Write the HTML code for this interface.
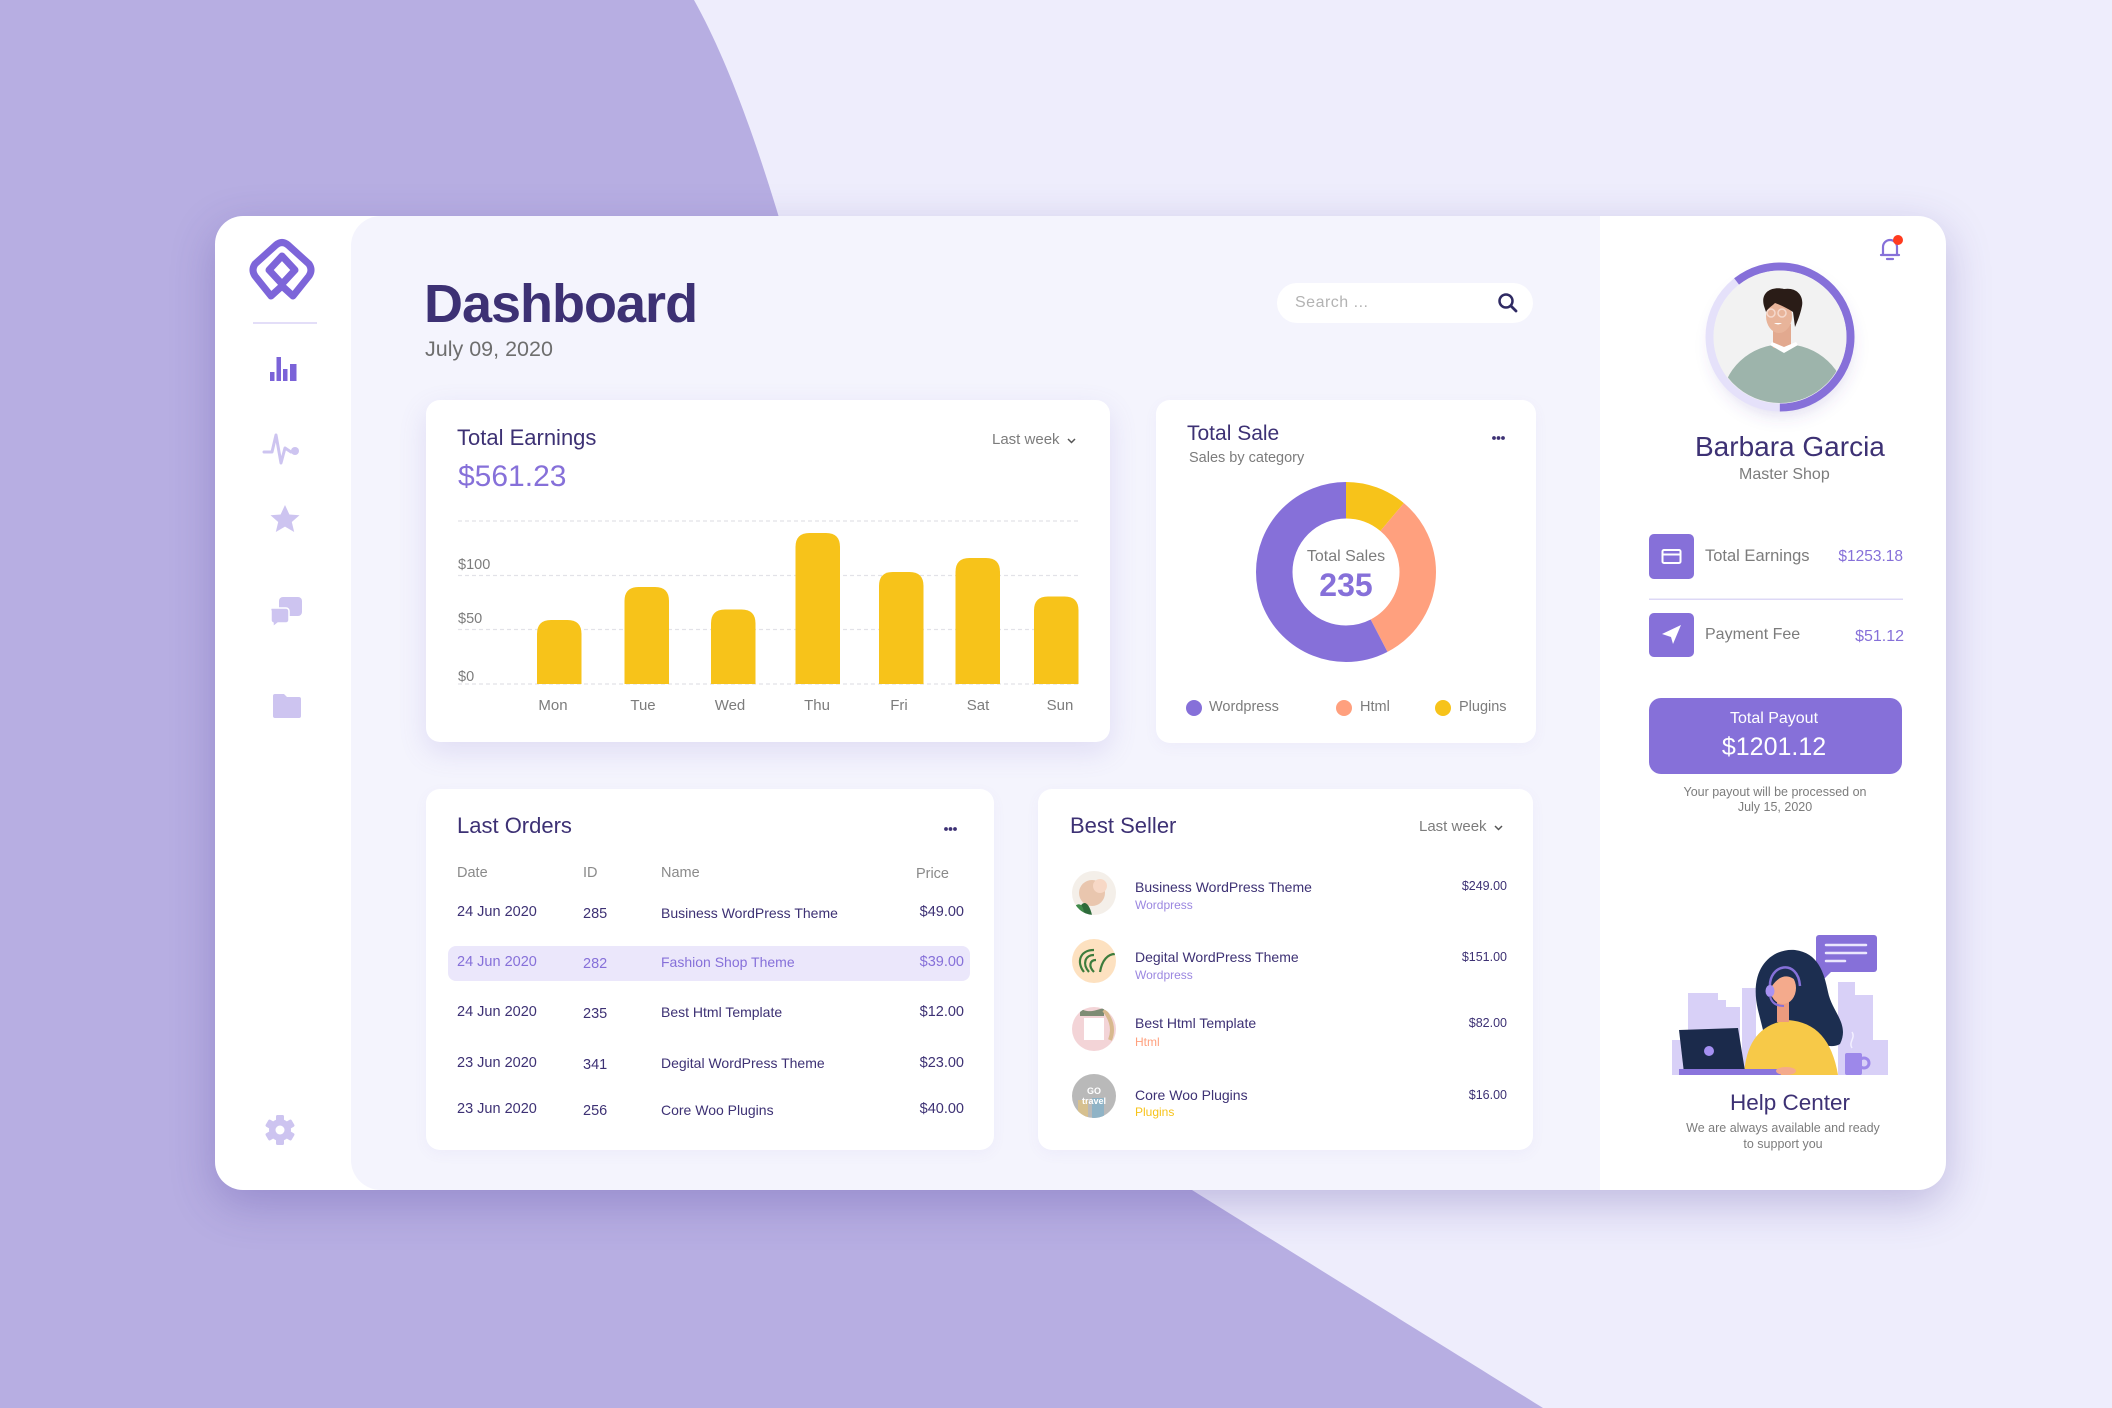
<!DOCTYPE html>
<html><head><meta charset="utf-8">
<style>
html,body{margin:0;padding:0;}
body{width:2112px;height:1408px;overflow:hidden;position:relative;font-family:"Liberation Sans",sans-serif;}
.t{position:absolute;white-space:nowrap;line-height:1.2;font-family:"Liberation Sans",sans-serif;}
.nv{color:#3d3174;}
.gy{color:#7c7c7c;}
.pu{color:#8670d9;}
.box{position:absolute;}
</style></head>
<body>
<!-- background -->
<svg width="2112" height="1408" style="position:absolute;left:0;top:0">
  <rect width="2112" height="1408" fill="#b7aee2"/>
  <path d="M694 0 C850 280 900 1000 1192 1190 C1288 1250 1463 1358 1543 1408 L2112 1408 L2112 0 Z" fill="#eeedfc"/>
</svg>

<!-- main card -->
<div class="box" style="left:215px;top:216px;width:1731px;height:974px;background:#fff;border-radius:28px;box-shadow:0 14px 44px rgba(70,50,150,0.28);"></div>
<div class="box" style="left:351px;top:216px;width:1249px;height:974px;background:#f4f4fd;border-radius:30px 0 0 30px;"></div>

<!-- inner cards -->
<div class="box" style="left:426px;top:400px;width:684px;height:342px;background:#fff;border-radius:14px;box-shadow:0 10px 28px rgba(120,100,200,0.16);"></div>
<div class="box" style="left:1156px;top:400px;width:380px;height:343px;background:#fff;border-radius:14px;box-shadow:0 4px 14px rgba(120,100,200,0.05);"></div>
<div class="box" style="left:426px;top:789px;width:568px;height:361px;background:#fff;border-radius:14px;box-shadow:0 4px 14px rgba(120,100,200,0.05);"></div>
<div class="box" style="left:1038px;top:789px;width:495px;height:361px;background:#fff;border-radius:14px;box-shadow:0 4px 14px rgba(120,100,200,0.05);"></div>
<!-- search -->
<div class="box" style="left:1277px;top:283px;width:256px;height:40px;background:#fff;border-radius:20px;"></div>
<!-- payout button -->
<div class="box" style="left:1649px;top:698px;width:253px;height:76px;background:#8670d9;border-radius:12px;"></div>
<!-- highlighted row -->
<div class="box" style="left:448px;top:946px;width:522px;height:35px;background:#ebe7fb;border-radius:8px;"></div>

<!-- graphics overlay -->
<svg width="2112" height="1408" style="position:absolute;left:0;top:0">
  <defs>
    <clipPath id="av"><circle cx="1780" cy="337" r="66"/></clipPath>
    <filter id="bl" x="-50%" y="-50%" width="200%" height="200%"><feGaussianBlur stdDeviation="8"/></filter>
    <clipPath id="b1"><circle cx="1094" cy="893" r="22"/></clipPath>
    <clipPath id="b2"><circle cx="1094" cy="961" r="22"/></clipPath>
    <clipPath id="b3"><circle cx="1094" cy="1029" r="22"/></clipPath>
    <clipPath id="b4"><circle cx="1094" cy="1096" r="22"/></clipPath>
  </defs>

  <!-- sidebar logo -->
  <g fill="none" stroke="#7d65d9" stroke-width="7" stroke-linejoin="round" stroke-linecap="round">
    <path d="M282 286 L271 296 L255 276 Q251 270 255 264 L276 245 Q282 240 288 245 L309 264 Q313 270 309 276 L293 296 Z"/>
    <path d="M282 256 L295 270 L282 284 L269 270 Z"/>
  </g>
  <rect x="253" y="322" width="64" height="2" fill="#e3def8"/>
  <!-- bar icon -->
  <g fill="#7b63d8">
    <rect x="270" y="372" width="4.5" height="9"/>
    <rect x="276.5" y="357" width="4.5" height="24"/>
    <rect x="283" y="369" width="4.5" height="12"/>
    <rect x="290" y="364" width="6.5" height="17"/>
  </g>
  <!-- pulse -->
  <path d="M264 452 L272 452 L276 435 L281 463 L285 448 L291 452" fill="none" stroke="#cdc4f0" stroke-width="3" stroke-linejoin="round" stroke-linecap="round"/>
  <circle cx="295" cy="451" r="4" fill="#cdc4f0"/>
  <!-- star -->
  <polygon points="285,505 289.4,514.5 299.5,515.3 291.8,522 294.2,532 285,526.6 275.8,532 278.2,522 270.5,515.3 280.6,514.5" fill="#cdc4f0"/>
  <!-- chat -->
  <rect x="279" y="597" width="23" height="19" rx="4" fill="#cdc4f0"/>
  <path d="M271 608 h15 a3 3 0 0 1 3 3 v9 a3 3 0 0 1 -3 3 h-8 l-5 4 v-4 a3 3 0 0 1 -2 -3 v-9 a3 3 0 0 1 0 -3 z" fill="#cdc4f0" stroke="#fff" stroke-width="1.5"/>
  <!-- folder -->
  <path d="M273 696 a2 2 0 0 1 2 -2 h9 l3 3 h12 a2 2 0 0 1 2 2 v17 a2 2 0 0 1 -2 2 h-24 a2 2 0 0 1 -2 -2 z" fill="#cdc4f0"/>
  <!-- gear -->
  <g transform="translate(280 1130)" fill="#cdc4f0">
    <circle r="11"/>
    <rect x="-4" y="-15" width="8" height="30" rx="1.5"/>
    <rect x="-4" y="-15" width="8" height="30" rx="1.5" transform="rotate(60)"/>
    <rect x="-4" y="-15" width="8" height="30" rx="1.5" transform="rotate(120)"/>
    <circle r="4.5" fill="#fff"/>
  </g>

  <!-- search icon -->
  <circle cx="1506" cy="301" r="6.5" fill="none" stroke="#2f2a63" stroke-width="2.5"/>
  <line x1="1511" y1="306" x2="1516" y2="311" stroke="#2f2a63" stroke-width="2.8" stroke-linecap="round"/>

  <!-- earnings chart grid -->
  <g stroke="#e2e2e8" stroke-width="1.2" stroke-dasharray="4 3">
    <line x1="458" y1="521" x2="1079" y2="521"/>
    <line x1="458" y1="575.5" x2="1079" y2="575.5"/>
    <line x1="458" y1="629.5" x2="1079" y2="629.5"/>
    <line x1="458" y1="684" x2="1079" y2="684"/>
  </g>
  <g fill="#f7c31a">
    <path d="M537 684 V634 Q537 620 551 620 H567.5 Q581.5 620 581.5 634 V684 Z"/>
    <path d="M624.5 684 V601 Q624.5 587 638.5 587 H655 Q669 587 669 601 V684 Z"/>
    <path d="M711 684 V623.5 Q711 609.5 725 609.5 H741.5 Q755.5 609.5 755.5 623.5 V684 Z"/>
    <path d="M795.5 684 V547 Q795.5 533 809.5 533 H826 Q840 533 840 547 V684 Z"/>
    <path d="M879 684 V586 Q879 572 893 572 H909.5 Q923.5 572 923.5 586 V684 Z"/>
    <path d="M955.5 684 V572 Q955.5 558 969.5 558 H986 Q1000 558 1000 572 V684 Z"/>
    <path d="M1034 684 V610.5 Q1034 596.5 1048 596.5 H1064.5 Q1078.5 596.5 1078.5 610.5 V684 Z"/>
  </g>
  <!-- chevrons -->
  <polyline points="1068,439 1071.5,442.5 1075,439" fill="none" stroke="#555" stroke-width="1.5"/>
  <polyline points="1495,826 1498.5,829.5 1502,826" fill="none" stroke="#555" stroke-width="1.5"/>
  <!-- dots -->
  <g fill="#3d3174">
    <circle cx="1494" cy="438" r="1.9"/><circle cx="1498.5" cy="438" r="1.9"/><circle cx="1503" cy="438" r="1.9"/>
    <circle cx="946" cy="829" r="1.9"/><circle cx="950.5" cy="829" r="1.9"/><circle cx="955" cy="829" r="1.9"/>
  </g>

  <!-- donut -->
  <g fill="none" stroke-width="36.5" transform="rotate(-90 1346 572)">
    <circle cx="1346" cy="572" r="71.75" stroke="#f7c31a" stroke-dasharray="50.09 450.82"/>
    <circle cx="1346" cy="572" r="71.75" stroke="#ffa07e" stroke-dasharray="140.88 450.82" stroke-dashoffset="-50.09"/>
    <circle cx="1346" cy="572" r="71.75" stroke="#8670d9" stroke-dasharray="259.85 450.82" stroke-dashoffset="-190.97"/>
  </g>
  <!-- legend dots -->
  <circle cx="1194" cy="708" r="8" fill="#8670d9"/>
  <circle cx="1344" cy="708" r="8" fill="#ffa07e"/>
  <circle cx="1443" cy="708" r="8" fill="#f7c31a"/>

  <!-- bell -->
  <g fill="none" stroke="#8670d9" stroke-width="2.2" stroke-linecap="round">
    <path d="M1881 255 h18 M1883 255 v-8 a7 7 0 0 1 14 0 v8 M1887 259 h6"/>
  </g>
  <circle cx="1898" cy="240" r="5" fill="#ff3b1f"/>

  <!-- avatar -->
  <circle cx="1782" cy="346" r="70" fill="rgba(90,70,170,0.18)" filter="url(#bl)"/>
  <circle cx="1780" cy="337" r="70.5" fill="none" stroke="#e5e1fa" stroke-width="8"/>
  <circle cx="1780" cy="337" r="70.5" fill="none" stroke="#8670d9" stroke-width="8" stroke-dasharray="268.3 443" transform="rotate(-128 1780 337)"/>
  <circle cx="1780" cy="337" r="66.5" fill="#f2f2f2"/>
  <g clip-path="url(#av)">
    <ellipse cx="1784" cy="402" rx="62" ry="58" fill="#9db4ab"/>
    <rect x="1773" y="324" width="18" height="24" fill="#e2a98f"/>
    <path d="M1770 345 L1784 353 L1798 345 L1796 342 L1784 347 L1772 342 Z" fill="#fff"/>
    <ellipse cx="1779" cy="316" rx="13" ry="17" fill="#e8b49a"/>
    <path d="M1764 306 C1760 292 1772 286 1784 289 C1796 287 1804 295 1802 306 C1800 316 1797 322 1795 327 L1793 312 C1787 308 1781 305 1775 303 C1771 307 1768 308 1766 312 Z" fill="#2a1c17"/>
    <circle cx="1771" cy="313" r="4" fill="none" stroke="#f5d9cd" stroke-width="1.5"/>
    <circle cx="1782" cy="313" r="4" fill="none" stroke="#f5d9cd" stroke-width="1.5"/>
    <path d="M1774 323 q4 3 8 0" fill="#fff"/>
  </g>

  <!-- right panel icon boxes -->
  <rect x="1649" y="534" width="45" height="45" rx="5" fill="#8670d9"/>
  <rect x="1662.5" y="550" width="18" height="13" rx="1.5" fill="none" stroke="#fff" stroke-width="2"/>
  <line x1="1662.5" y1="554.5" x2="1680.5" y2="554.5" stroke="#fff" stroke-width="2"/>
  <rect x="1649" y="613" width="45" height="44" rx="5" fill="#8670d9"/>
  <path d="M1662 634 L1681 625 L1673 644 L1671 637 Z" fill="#fff"/>
  <rect x="1649" y="598.5" width="254" height="1.5" fill="#ddd8f6"/>

  <!-- best seller avatars -->
  <g clip-path="url(#b1)">
    <rect x="1070" y="870" width="50" height="50" fill="#f4efe9"/>
    <circle cx="1092" cy="893" r="13" fill="#e9c6ae"/>
    <circle cx="1100" cy="886" r="7" fill="#f7d8c6"/>
    <path d="M1078 915 C1080 900 1088 898 1092 915 Z" fill="#2e6b3a"/>
    <path d="M1072 910 C1078 900 1084 904 1084 915 Z" fill="#3f8a4a"/>
  </g>
  <g clip-path="url(#b2)">
    <rect x="1070" y="938" width="50" height="50" fill="#fde1c0"/>
    <g fill="none" stroke="#3d7c3c" stroke-width="2.2">
      <path d="M1084 972 C1076 962 1080 950 1094 950"/>
      <path d="M1089 972 C1082 964 1085 955 1094 955"/>
      <path d="M1094 972 C1088 966 1090 960 1096 960"/>
      <path d="M1100 972 C1102 960 1108 954 1115 954"/>
    </g>
  </g>
  <g clip-path="url(#b3)">
    <rect x="1070" y="1006" width="50" height="50" fill="#f3d4d7"/>
    <rect x="1084" y="1018" width="20" height="22" fill="#fff"/>
    <path d="M1080 1008 C1088 1014 1096 1010 1104 1008 L1104 1016 L1080 1016 Z" fill="#4c6e4a" opacity="0.7"/>
    <path d="M1104 1010 C1112 1020 1114 1030 1110 1040" fill="none" stroke="#d8b98e" stroke-width="4"/>
  </g>
  <g clip-path="url(#b4)">
    <rect x="1070" y="1073" width="50" height="50" fill="#b9b9b9"/>
    <rect x="1078" y="1100" width="10" height="18" fill="#d6c08f"/>
    <rect x="1092" y="1098" width="12" height="20" fill="#8fb3c6"/>
    <text x="1094" y="1094" font-family="Liberation Sans, sans-serif" font-size="9" font-weight="bold" fill="#fff" text-anchor="middle">GO</text>
    <text x="1094" y="1104" font-family="Liberation Sans, sans-serif" font-size="9" font-weight="bold" fill="#fff" text-anchor="middle">travel</text>
  </g>

  <!-- help center illustration -->
  <g fill="#d8d0f7">
    <rect x="1672" y="1040" width="16" height="35"/>
    <rect x="1688" y="993" width="30" height="82"/>
    <rect x="1718" y="1000" width="8" height="75"/>
    <rect x="1723" y="1007" width="17" height="68"/>
    <rect x="1742" y="988" width="14" height="87"/>
    <rect x="1838" y="982" width="17" height="93"/>
    <rect x="1855" y="995" width="18" height="80"/>
    <rect x="1873" y="1040" width="15" height="35"/>
  </g>
  <rect x="1816" y="935" width="61" height="37" rx="3" fill="#8670d9"/>
  <path d="M1822 971 L1832 971 L1822 981 Z" fill="#8670d9"/>
  <g stroke="#ebe7fd" stroke-width="2.5" stroke-linecap="round">
    <line x1="1826" y1="945" x2="1866" y2="945"/>
    <line x1="1826" y1="953" x2="1866" y2="953"/>
    <line x1="1826" y1="961" x2="1845" y2="961"/>
  </g>
  <!-- woman -->
  <path d="M1758 1010 C1748 968 1772 948 1795 950 C1818 953 1824 972 1828 992 C1832 1012 1850 1024 1840 1044 C1830 1050 1815 1042 1805 1037 L1764 1034 Z" fill="#1c2e50"/>
  <path d="M1744 1075 C1746 1042 1760 1024 1788 1020 C1816 1022 1832 1040 1838 1075 Z" fill="#f7c948"/>
  <rect x="1777" y="1000" width="12" height="22" fill="#ec9b7e"/>
  <ellipse cx="1783" cy="988" rx="13" ry="16" fill="#f4aa8c"/>
  <path d="M1768 986 C1766 966 1780 958 1794 962 C1800 968 1800 976 1797 982 C1790 974 1780 974 1772 986 Z" fill="#1c2e50"/>
  <path d="M1770 988 C1768 964 1798 958 1800 986" fill="none" stroke="#8670d9" stroke-width="2.5"/>
  <ellipse cx="1770" cy="991" rx="4.5" ry="6" fill="#a892f2"/>
  <path d="M1770 996 Q1772 1006 1784 1006" fill="none" stroke="#8670d9" stroke-width="2"/>
  <path d="M1679 1030 L1738 1028 L1745 1071 L1684 1073 Z" fill="#1b2a4b"/>
  <circle cx="1709" cy="1051" r="5" fill="#a590f2"/>
  <rect x="1679" y="1069" width="102" height="6" fill="#8a74dc"/>
  <ellipse cx="1786" cy="1071" rx="10" ry="4" fill="#f4aa8c"/>
  <rect x="1845" y="1053" width="17" height="22" rx="2" fill="#9d88ea"/>
  <circle cx="1864" cy="1063" r="5" fill="none" stroke="#9d88ea" stroke-width="3"/>
  <path d="M1852 1048 C1848 1042 1856 1038 1852 1032" fill="none" stroke="#f3f0ff" stroke-width="1.5"/>
</svg>

<!-- TEXT -->
<div class="t nv" style="left:424px;top:272px;font-size:54px;font-weight:bold;letter-spacing:-1px;color:#3d3174;">Dashboard</div>
<div class="t" style="left:425px;top:337px;font-size:21.5px;color:#6e6e6e;">July 09, 2020</div>
<div class="t" style="left:1295px;top:293px;font-size:16px;color:#b3b3b3;letter-spacing:0.5px;">Search ...</div>

<!-- earnings -->
<div class="t nv" style="left:457px;top:425px;font-size:22px;">Total Earnings</div>
<div class="t pu" style="left:458px;top:459px;font-size:30px;">$561.23</div>
<div class="t gy" style="left:992px;top:431px;font-size:15px;">Last week</div>
<div class="t gy" style="left:458px;top:557px;font-size:14.5px;">$100</div>
<div class="t gy" style="left:458px;top:611px;font-size:14.5px;">$50</div>
<div class="t gy" style="left:458px;top:669px;font-size:14.5px;">$0</div>
<div class="t gy" style="left:503px;width:100px;text-align:center;top:697px;font-size:15px;">Mon</div>
<div class="t gy" style="left:593px;width:100px;text-align:center;top:697px;font-size:15px;">Tue</div>
<div class="t gy" style="left:680px;width:100px;text-align:center;top:697px;font-size:15px;">Wed</div>
<div class="t gy" style="left:767px;width:100px;text-align:center;top:697px;font-size:15px;">Thu</div>
<div class="t gy" style="left:849px;width:100px;text-align:center;top:697px;font-size:15px;">Fri</div>
<div class="t gy" style="left:928px;width:100px;text-align:center;top:697px;font-size:15px;">Sat</div>
<div class="t gy" style="left:1010px;width:100px;text-align:center;top:697px;font-size:15px;">Sun</div>

<!-- total sale -->
<div class="t nv" style="left:1187px;top:421px;font-size:21px;">Total Sale</div>
<div class="t gy" style="left:1189px;top:450px;font-size:14.5px;">Sales by category</div>
<div class="t gy" style="left:1246px;width:200px;text-align:center;top:547px;font-size:16px;">Total Sales</div>
<div class="t pu" style="left:1246px;width:200px;text-align:center;top:566px;font-size:32px;font-weight:bold;">235</div>
<div class="t gy" style="left:1209px;top:699px;font-size:14.5px;">Wordpress</div>
<div class="t gy" style="left:1360px;top:699px;font-size:14.5px;">Html</div>
<div class="t gy" style="left:1459px;top:699px;font-size:14.5px;">Plugins</div>

<!-- last orders -->
<div class="t nv" style="left:457px;top:813px;font-size:22px;">Last Orders</div>
<div class="t" style="left:457px;top:865px;font-size:14.5px;color:#8a8a8a;">Date</div>
<div class="t" style="left:583px;top:865px;font-size:14.5px;color:#8a8a8a;">ID</div>
<div class="t" style="left:661px;top:865px;font-size:14.5px;color:#8a8a8a;">Name</div>
<div class="t" style="right:1163px;top:866px;font-size:14.5px;color:#8a8a8a;">Price</div>

<div class="t nv" style="left:457px;top:904px;font-size:14.5px;">24 Jun 2020</div>
<div class="t nv" style="left:583px;top:906px;font-size:14.5px;">285</div>
<div class="t nv" style="left:661px;top:905px;font-size:14px;">Business WordPress Theme</div>
<div class="t nv" style="right:1148px;top:904px;font-size:14.5px;">$49.00</div>

<div class="t pu" style="left:457px;top:954px;font-size:14.5px;">24 Jun 2020</div>
<div class="t pu" style="left:583px;top:956px;font-size:14.5px;">282</div>
<div class="t pu" style="left:661px;top:954px;font-size:14px;">Fashion Shop Theme</div>
<div class="t pu" style="right:1148px;top:954px;font-size:14.5px;">$39.00</div>

<div class="t nv" style="left:457px;top:1004px;font-size:14.5px;">24 Jun 2020</div>
<div class="t nv" style="left:583px;top:1006px;font-size:14.5px;">235</div>
<div class="t nv" style="left:661px;top:1004px;font-size:14px;">Best Html Template</div>
<div class="t nv" style="right:1148px;top:1004px;font-size:14.5px;">$12.00</div>

<div class="t nv" style="left:457px;top:1055px;font-size:14.5px;">23 Jun 2020</div>
<div class="t nv" style="left:583px;top:1057px;font-size:14.5px;">341</div>
<div class="t nv" style="left:661px;top:1055px;font-size:14px;">Degital WordPress Theme</div>
<div class="t nv" style="right:1148px;top:1055px;font-size:14.5px;">$23.00</div>

<div class="t nv" style="left:457px;top:1101px;font-size:14.5px;">23 Jun 2020</div>
<div class="t nv" style="left:583px;top:1103px;font-size:14.5px;">256</div>
<div class="t nv" style="left:661px;top:1102px;font-size:14px;">Core Woo Plugins</div>
<div class="t nv" style="right:1148px;top:1101px;font-size:14.5px;">$40.00</div>

<!-- best seller -->
<div class="t nv" style="left:1070px;top:813px;font-size:22px;">Best Seller</div>
<div class="t gy" style="left:1419px;top:818px;font-size:15px;">Last week</div>

<div class="t nv" style="left:1135px;top:879px;font-size:14px;">Business WordPress Theme</div>
<div class="t" style="left:1135px;top:898px;font-size:12px;color:#9b87e0;">Wordpress</div>
<div class="t nv" style="right:605px;top:879px;font-size:12.5px;">$249.00</div>

<div class="t nv" style="left:1135px;top:949px;font-size:14px;">Degital WordPress Theme</div>
<div class="t" style="left:1135px;top:968px;font-size:12px;color:#9b87e0;">Wordpress</div>
<div class="t nv" style="right:605px;top:950px;font-size:12.5px;">$151.00</div>

<div class="t nv" style="left:1135px;top:1015px;font-size:14px;">Best Html Template</div>
<div class="t" style="left:1135px;top:1035px;font-size:12px;color:#ffa07e;">Html</div>
<div class="t nv" style="right:605px;top:1016px;font-size:12.5px;">$82.00</div>

<div class="t nv" style="left:1135px;top:1087px;font-size:14px;">Core Woo Plugins</div>
<div class="t" style="left:1135px;top:1105px;font-size:12px;color:#f7c31a;">Plugins</div>
<div class="t nv" style="right:605px;top:1088px;font-size:12.5px;">$16.00</div>

<!-- right panel -->
<div class="t nv" style="left:1695px;top:430px;font-size:28px;">Barbara Garcia</div>
<div class="t gy" style="left:1739px;top:465px;font-size:16px;">Master Shop</div>
<div class="t gy" style="left:1705px;top:547px;font-size:16.5px;">Total Earnings</div>
<div class="t pu" style="right:209px;top:548px;font-size:15.5px;">$1253.18</div>
<div class="t gy" style="left:1705px;top:625px;font-size:16px;">Payment Fee</div>
<div class="t pu" style="right:208px;top:627px;font-size:16px;">$51.12</div>
<div class="t" style="left:1674px;width:200px;text-align:center;top:709px;font-size:16px;color:#fff;">Total Payout</div>
<div class="t" style="left:1674px;width:200px;text-align:center;top:732px;font-size:25px;color:#fff;">$1201.12</div>
<div class="t gy" style="left:1625px;width:300px;text-align:center;top:785px;font-size:12.5px;line-height:15px;">Your payout will be processed on<br>July 15, 2020</div>

<div class="t nv" style="left:1690px;width:200px;text-align:center;top:1089px;font-size:22.5px;">Help Center</div>
<div class="t gy" style="left:1633px;width:300px;text-align:center;top:1120px;font-size:12.5px;line-height:16px;">We are always available and ready<br>to support you</div>
</body></html>
